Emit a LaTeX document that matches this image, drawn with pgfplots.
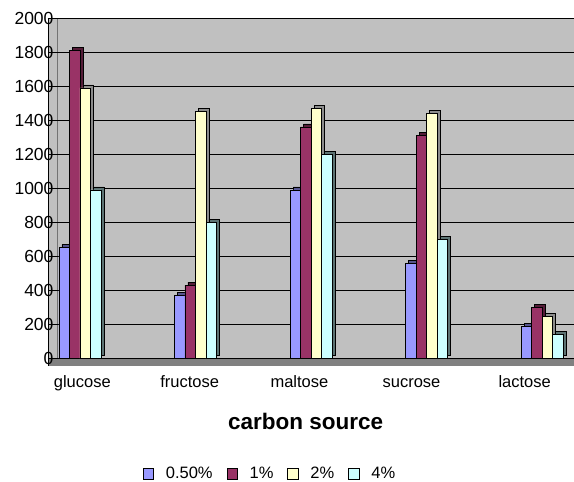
\documentclass[border=0pt]{standalone}
\usepackage{fontspec}
\setmainfont{Liberation Sans}
\usepackage{pgfplots}
\pgfplotsset{compat=1.18}

\definecolor{cHalf}{HTML}{9999FF}
\definecolor{cOne}{HTML}{993366}
\definecolor{cTwo}{HTML}{FFFFCC}
\definecolor{cFour}{HTML}{CCFFFF}
\definecolor{wall}{HTML}{C0C0C0}
\definecolor{floorc}{HTML}{808080}

% yield per carbon source and concentration
\pgfplotstableread{
x  half  one   two   four
0  650   1810  1590  990
1  370   430   1450  800
2  990   1360  1470  1200
3  560   1310  1440  700
4  190   300   245   140
}\datatable

\begin{document}
\begin{tikzpicture}[x=1pt,y=1pt]
\useasboundingbox (0,0) rectangle (574,482);
% back wall, floor and side-wall edge behind the axis
\fill[wall] (48,116) rectangle (574,464);
\fill[floorc] (48,116) rectangle (574,123.66);
\draw[black!55, line width=0.6pt] (57,123.66) -- (57,464);
\begin{axis}[
  at={(48pt,116pt)}, anchor=south west,
  scale only axis, width=526pt, height=348pt,
  font=\fontsize{16.5}{19}\selectfont,
  /pgf/number format/assume math mode=true,
  /pgf/number format/1000 sep={},
  ybar=0pt, bar width=10.5pt,
  xmin=-0.277, xmax=4.277,
  ymin=-45, ymax=2000,
  ytick={0,200,...,2000},
  yticklabel style={xshift=9pt, font=\fontsize{17.5}{20}\selectfont},
  xtick={0.02,0.95,1.9,2.87,3.85},
  xticklabels={glucose,fructose,maltose,sucrose,lactose},
  xtick style={draw=none},
  ytick style={draw=none},
  xticklabel style={yshift=-5pt, anchor=north, text height=1.6ex, text depth=0.4ex},
  axis x line*=bottom, axis y line*=left,
  x axis line style={draw=none},
  y axis line style={black,-},
  ymajorgrids, grid style={black, line width=0.6pt},
  xlabel={\fontsize{22.5}{26}\selectfont\bfseries carbon source},
  every axis x label/.style={at={(axis description cs:0.49,0)}, anchor=center, yshift=-55pt},
  legend style={at={(axis description cs:0.4221,-0.31)}, anchor=center,
    legend columns=4, draw=none, fill=none,
    /tikz/every odd column/.append style={column sep=10pt},
    /tikz/every even column/.append style={column sep=12pt},
    font=\fontsize{16.5}{19}\selectfont},
  legend cell align=left,
  legend image code/.code={%
    \draw[#1,draw=black,line width=0.5pt] (0pt,-5.25pt) rectangle (10.5pt,5.25pt);},
]
% side and top faces of the columns
\addplot[forget plot, fill=cHalf!55!black, draw=black, line width=0.5pt, bar shift=-15.75pt, xshift=3pt, yshift=3pt] table[x=x,y=half] {\datatable};
\addplot[forget plot, fill=cOne!55!black, draw=black, line width=0.5pt, bar shift=-5.25pt, xshift=3pt, yshift=3pt] table[x=x,y=one] {\datatable};
\addplot[forget plot, fill=black!45, draw=black, line width=0.5pt, bar shift=5.25pt, xshift=3pt, yshift=3pt] table[x=x,y=two] {\datatable};
\addplot[forget plot, fill=cFour!45!black, draw=black, line width=0.5pt, bar shift=15.75pt, xshift=3pt, yshift=3pt] table[x=x,y=four] {\datatable};

% front faces
\addplot[fill=cHalf, draw=black, line width=0.5pt, bar shift=-15.75pt] table[x=x,y=half] {\datatable};
\addplot[fill=cOne, draw=black, line width=0.5pt, bar shift=-5.25pt] table[x=x,y=one] {\datatable};
\addplot[fill=cTwo, draw=black, line width=0.5pt, bar shift=5.25pt] table[x=x,y=two] {\datatable};
\addplot[fill=cFour, draw=black, line width=0.5pt, bar shift=15.75pt] table[x=x,y=four] {\datatable};
\legend{0.50\%,1\%,2\%,4\%}
\end{axis}
\end{tikzpicture}
\end{document}
